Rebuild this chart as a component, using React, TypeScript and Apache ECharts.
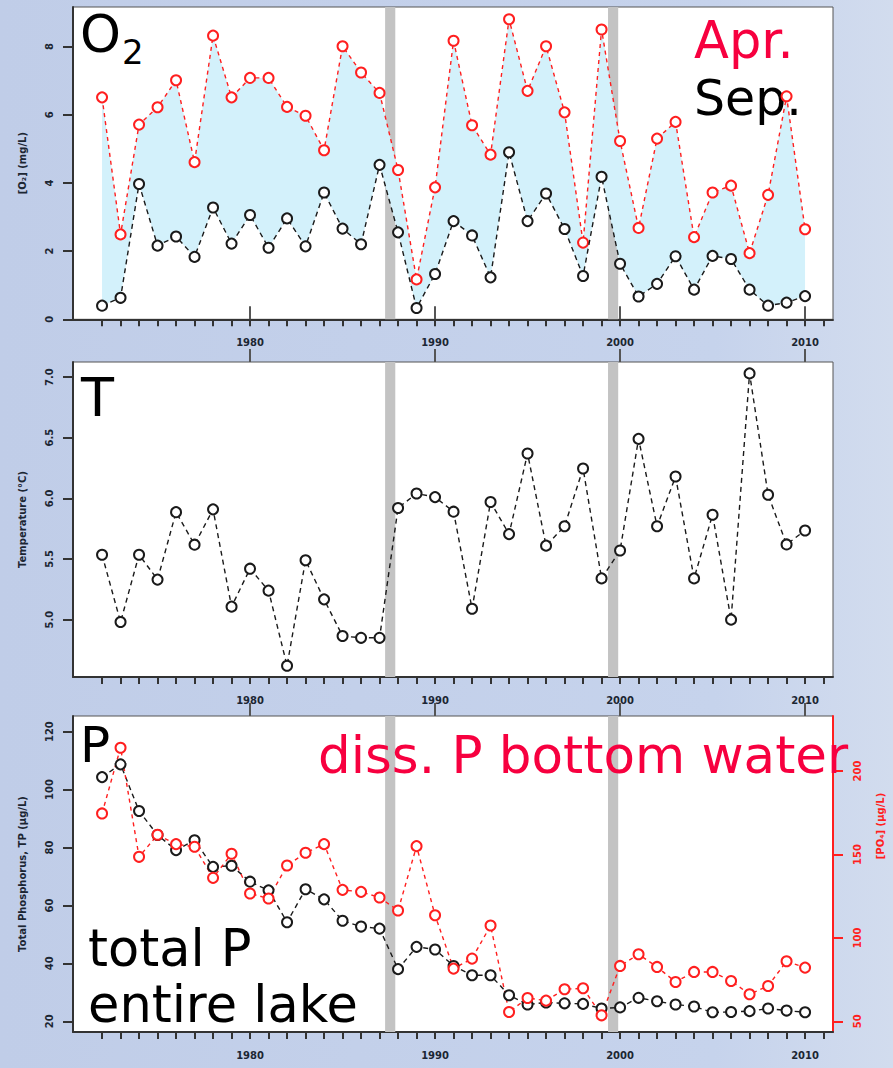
import React, { useEffect, useRef } from "react";
import * as echarts from "echarts";

const years = [1972, 1973, 1974, 1975, 1976, 1977, 1978, 1979, 1980, 1981, 1982, 1983, 1984, 1985, 1986, 1987, 1988, 1989, 1990,
  1991, 1992, 1993, 1994, 1995, 1996, 1997, 1998, 1999, 2000, 2001, 2002, 2003, 2004, 2005, 2006, 2007, 2008, 2009, 2010];
const xTickYears = [1972, 1973, 1974, 1975, 1976, 1977, 1978, 1979, 1980, 1981, 1982, 1983, 1984, 1985, 1986, 1987, 1988, 1989, 1990,
  1991, 1992, 1993, 1994, 1995, 1996, 1997, 1998, 1999, 2000, 2001, 2002, 2003, 2004, 2005, 2006, 2007, 2008, 2009, 2010, 2011];
const xLabelYears = [1980, 1990, 2000, 2010];

const o2Apr = [6.51, 2.49, 5.71, 6.22, 7.01, 4.61, 8.32, 6.51, 7.08, 7.08, 6.23, 5.97, 4.96, 8.01, 7.24, 6.64, 4.38, 1.17, 3.87,
  8.17, 5.69, 4.83, 8.8, 6.7, 8.01, 6.07, 2.25, 8.5, 5.23, 2.68, 5.3, 5.79, 2.41, 3.72, 3.92, 1.94, 3.65, 6.54, 2.64];
const o2Sep = [0.4, 0.63, 3.97, 2.16, 2.43, 1.83, 3.28, 2.22, 3.06, 2.1, 2.96, 2.14, 3.72, 2.66, 2.2, 4.53, 2.55, 0.33, 1.33,
  2.88, 2.46, 1.23, 4.9, 2.88, 3.69, 2.65, 1.27, 4.18, 1.63, 0.67, 1.04, 1.85, 0.87, 1.86, 1.77, 0.87, 0.4, 0.49, 0.68];
const temperature = [5.535, 4.98, 5.535, 5.33, 5.886, 5.618, 5.909, 5.107, 5.42, 5.239, 4.62, 5.49, 5.167, 4.865, 4.85, 4.85, 5.92, 6.04, 6.01,
  5.89, 5.09, 5.97, 5.705, 6.37, 5.61, 5.77, 6.246, 5.34, 5.57, 6.49, 5.77, 6.18, 5.34, 5.865, 5.0, 7.03, 6.03, 5.62, 5.735];
const totalP = [104.3, 108.7, 92.6, 84.3, 79.1, 82.5, 73.3, 73.7, 68.2, 65.2, 54.2, 65.6, 62.1, 54.7, 52.7, 52.0, 38.0, 45.7, 44.8,
  39.1, 35.9, 35.9, 29.0, 25.8, 26.5, 26.2, 26.0, 24.4, 24.8, 28.1, 26.9, 25.8, 25.1, 23.1, 23.2, 23.5, 24.4, 23.7, 23.1];
const dissP = [174.6, 214, 148.6, 161.8, 156.2, 154.6, 136.0, 150.4, 126.6, 123.6, 143.4, 151.0, 156.2, 128.8, 127.6, 124.2, 116.4, 155.0, 113.6,
  81.6, 87.6, 107.4, 55.6, 64.0, 62.4, 69.2, 69.8, 53.6, 83.2, 90.2, 82.6, 73.6, 79.6, 79.6, 74.2, 66.2, 71.2, 86.0, 82.2];

const o2Ticks = [0, 2, 4, 6, 8];
const tempTicks = [5.0, 5.5, 6.0, 6.5, 7.0];
const tpTicks = [20, 40, 60, 80, 100, 120];
const dissPTicks = [50, 100, 150, 200];
const shiftBands = [[1987.3, 1987.85], [1999.35, 1999.9]];

const RED = "#ff1f1f";
const TEXT_RED = "#f7003f";
const FONT = "DejaVu Sans";

const tickLabelStyle = { fontSize: 10, fontWeight: "bold" as const, color: "#1c2633", fontFamily: FONT };

export default function App() {
  const ref = useRef<HTMLDivElement>(null);
  useEffect(() => {
    if (!ref.current) return;
    const chart = echarts.init(ref.current, null, { renderer: "svg" });
    const grids = [
      { left: 73, top: 7, width: 760, height: 312.3 },
      { left: 73, top: 362, width: 760, height: 315 },
      { left: 73, top: 716, width: 760, height: 316 },
    ];
    const xAxes: any[] = [];
    grids.forEach((_, gi) => {
      xAxes.push({
        type: "value", gridIndex: gi, min: 1970.43, max: 2011.51,
        axisLine: { show: true, onZero: false, lineStyle: { color: "#333", width: 2 } },
        axisTick: { show: true, customValues: xTickYears, length: 7, lineStyle: { color: "#333", width: 2 } },
        axisLabel: { show: true, customValues: xLabelYears, margin: 18, formatter: (v: number) => String(v), ...tickLabelStyle },
        splitLine: { show: false },
      });
      xAxes.push({
        type: "value", gridIndex: gi, min: 1970.43, max: 2011.51,
        axisLine: { show: false },
        axisTick: { show: true, customValues: xLabelYears, length: 13, lineStyle: { color: "#555", width: 2 } },
        axisLabel: { show: false },
        splitLine: { show: false },
      });
    });
    const yBase = (gi: number, min: number, max: number, ticks: number[], name: string, fmt: (v: number) => string) => ({
      type: "value", gridIndex: gi, min, max,
      name, nameLocation: "middle", nameGap: 46,
      nameTextStyle: { fontSize: 10, fontWeight: "bold", color: "#1c2633", fontFamily: FONT },
      axisLine: { show: true, lineStyle: { color: "#333", width: 2 } },
      axisTick: { show: true, customValues: ticks, length: 10, lineStyle: { color: "#333", width: 2 } },
      axisLabel: { show: true, customValues: ticks, rotate: 90, margin: 19, formatter: fmt, ...tickLabelStyle },
      splitLine: { show: false },
    });
    const yAxes: any[] = [
      yBase(0, 0, 9.16, o2Ticks, "[O₂] (mg/L)", (v) => String(v)),
      yBase(1, 4.527, 7.124, tempTicks, "Temperature (°C)", (v) => v.toFixed(1)),
      yBase(2, 16.3, 125.4, tpTicks, "Total Phosphorus, TP (µg/L)", (v) => String(v)),
      {
        type: "value", gridIndex: 2, min: 43.6, max: 233, position: "right",
        axisLine: { show: true, lineStyle: { color: RED, width: 2 } },
        axisTick: { show: true, customValues: dissPTicks, length: 10, lineStyle: { color: RED, width: 2 } },
        axisLabel: { show: true, customValues: dissPTicks, rotate: 90, margin: 19, formatter: (v: number) => String(v), ...tickLabelStyle, color: RED },
        splitLine: { show: false },
      },
    ];
    const bandArea = {
      silent: true,
      itemStyle: { color: "#c3c3c3" },
      data: shiftBands.map(([a, b]) => [{ xAxis: a }, { xAxis: b }]),
    };
    const pointLine = (name: string, data: number[], color: string, xi: number, yi: number, dash: number[], extra: any = {}) => ({
      name, type: "line", xAxisIndex: xi, yAxisIndex: yi,
      data: years.map((y, i) => [y, data[i]]),
      symbol: "emptyCircle", symbolSize: 10,
      itemStyle: { color, borderColor: color, borderWidth: 1.6 },
      lineStyle: { color, width: 1.4, type: dash },
      z: 5,
      ...extra,
    });
    const series: any[] = [
      {
        name: "o2Range", type: "custom", xAxisIndex: 0, yAxisIndex: 0, z: 2, silent: true,
        data: years.map((y, i) => [y, o2Apr[i], o2Sep[i]]),
        encode: { x: 0, y: [1, 2] },
        renderItem: (params: any, api: any) => {
          if (params.dataIndex !== 0) return null;
          const top = years.map((y, i) => api.coord([y, o2Apr[i]]));
          const bottom = years.map((y, i) => api.coord([y, o2Sep[i]])).reverse();
          return { type: "polygon", shape: { points: top.concat(bottom) }, style: { fill: "#d3f1fb" } };
        },
      },
      pointLine("Apr.", o2Apr, RED, 0, 0, [4, 4], { markArea: bandArea, z: 4 }),
      pointLine("Sep.", o2Sep, "#1a1a1a", 0, 0, [5, 4]),
      pointLine("T", temperature, "#1a1a1a", 2, 1, [5, 4], { markArea: bandArea }),
      pointLine("TP", totalP, "#1a1a1a", 4, 2, [5, 4], { markArea: bandArea }),
      pointLine("dissP", dissP, RED, 4, 3, [4, 4]),
    ];
    const bigText = (text: string, x: number, y: number, size: number, color: string) => ({
      type: "text", x, y, z: 3,
      style: { text, fontSize: size, fontFamily: FONT, fill: color, verticalAlign: "middle", align: "left" },
    });
    const graphic: any[] = [
      bigText("O", 80, 34, 52, "#000"),
      bigText("2", 122, 52, 34, "#000"),
      bigText("Apr.", 694, 40, 51, TEXT_RED),
      bigText("Sep.", 694, 98, 49, "#000"),
      bigText("T", 81, 397, 54, "#000"),
      bigText("P", 80, 745, 50, "#000"),
      bigText("diss. P bottom water", 318, 755, 51.5, TEXT_RED),
      bigText("total P", 88, 948, 51, "#000"),
      bigText("entire lake", 88, 1004, 51, "#000"),
      {
        type: "text", x: 880, y: 826, rotation: Math.PI / 2, z: 3,
        style: { text: "[PO₄] (µg/L)", fontSize: 10, fontWeight: "bold", fontFamily: FONT, fill: RED, align: "center", verticalAlign: "middle" },
      },
    ];
    chart.setOption({
      animation: false,
      backgroundColor: "transparent",
      grid: grids.map((g) => ({ ...g, show: true, backgroundColor: "#fff", borderColor: "#555", borderWidth: 1 })),
      xAxis: xAxes,
      yAxis: yAxes,
      series,
      graphic,
    });
    return () => chart.dispose();
  }, []);
  return (
    <div
      style={{
        position: "absolute", left: 0, top: 0, width: 893, height: 1068,
        background: "linear-gradient(90deg, #c0cde8 0%, #c6d3ec 80%, #d2dcee 100%)",
      }}
    >
      <div ref={ref} style={{ width: 893, height: 1068 }} />
    </div>
  );
}
